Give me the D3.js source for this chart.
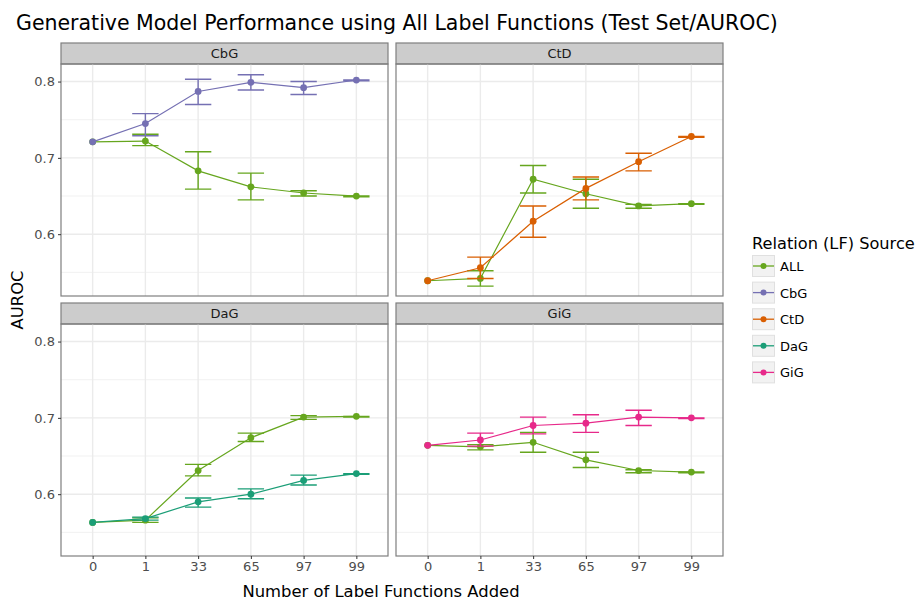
<!DOCTYPE html>
<html>
<head>
<meta charset="utf-8">
<script src="https://cdn.jsdelivr.net/npm/d3@7"></script>
<style>
  body { margin: 0; background: #fff; }
  text { font-family: "DejaVu Sans", sans-serif; }
</style>
</head>
<body>
<svg id="chart" width="919" height="600"></svg>
<script>
// categories
var xLabels = ["0", "1", "33", "65", "97", "99"];
var panelNames = ["CbG", "CtD", "DaG", "GiG"];
var sources = ["ALL", "CbG", "CtD", "DaG", "GiG"];
var sourceColors = ["#66a61e", "#7570b3", "#d95f02", "#1b9e77", "#e7298a"];

// ALL label functions, per panel (mean, lower, upper)
var cbgAll   = [0.721, 0.722, 0.683, 0.662, 0.654, 0.650];
var cbgAllLo = [null,  0.716, 0.659, 0.645, 0.650, 0.649];
var cbgAllHi = [null,  0.731, 0.708, 0.680, 0.657, 0.650];
var ctdAll   = [0.539, 0.542, 0.672, 0.653, 0.637, 0.640];
var ctdAllLo = [null,  0.532, 0.654, 0.634, 0.634, 0.639];
var ctdAllHi = [null,  0.552, 0.690, 0.672, 0.639, 0.640];
var dagAll   = [0.563, 0.566, 0.631, 0.674, 0.701, 0.702];
var dagAllLo = [null,  0.563, 0.624, 0.669, 0.698, 0.701];
var dagAllHi = [null,  0.569, 0.639, 0.680, 0.703, 0.702];
var gigAll   = [0.664, 0.662, 0.668, 0.645, 0.631, 0.629];
var gigAllLo = [null,  0.658, 0.655, 0.635, 0.628, 0.628];
var gigAllHi = [null,  0.665, 0.681, 0.655, 0.632, 0.629];

// same-relation label functions
var cbgOwn   = [0.721, 0.745, 0.787, 0.799, 0.792, 0.802];
var cbgOwnLo = [null,  0.729, 0.770, 0.789, 0.783, 0.801];
var cbgOwnHi = [null,  0.758, 0.803, 0.809, 0.800, 0.802];
var ctdOwn   = [0.539, 0.556, 0.617, 0.660, 0.695, 0.728];
var ctdOwnLo = [null,  0.542, 0.596, 0.645, 0.683, 0.727];
var ctdOwnHi = [null,  0.570, 0.637, 0.675, 0.706, 0.728];
var dagOwn   = [0.563, 0.568, 0.590, 0.600, 0.618, 0.627];
var dagOwnLo = [null,  0.566, 0.583, 0.594, 0.612, 0.626];
var dagOwnHi = [null,  0.570, 0.595, 0.607, 0.625, 0.627];
var gigOwn   = [0.664, 0.671, 0.690, 0.693, 0.701, 0.700];
var gigOwnLo = [null,  0.663, 0.679, 0.681, 0.690, 0.699];
var gigOwnHi = [null,  0.680, 0.701, 0.704, 0.710, 0.700];

var yTicks = [0.6, 0.7, 0.8];
var yMinor = [0.55, 0.65, 0.75];

var panelSeries = [
    [[cbgAll, cbgAllLo, cbgAllHi, "ALL"], [cbgOwn, cbgOwnLo, cbgOwnHi, "CbG"]],
    [[ctdAll, ctdAllLo, ctdAllHi, "ALL"], [ctdOwn, ctdOwnLo, ctdOwnHi, "CtD"]],
    [[dagAll, dagAllLo, dagAllHi, "ALL"], [dagOwn, dagOwnLo, dagOwnHi, "DaG"]],
    [[gigAll, gigAllLo, gigAllHi, "ALL"], [gigOwn, gigOwnLo, gigOwnHi, "GiG"]]
];

var color = d3.scaleOrdinal().domain(sources).range(sourceColors);

var svg = d3.select("#chart");

var panelW = 327, panelH = 232, stripH = 21;
var colX = [61, 396], rowY = [43, 303];

var x = d3.scalePoint().domain(xLabels).range([0, panelW]).padding(0.6);
var step = x.step();
var y = d3.scaleLinear().domain([0.519, 0.823]).range([panelH, 0]);

// title
svg.append("text")
    .attr("x", 16).attr("y", 30)
    .style("font-size", "20.5px").style("fill", "#000")
    .text("Generative Model Performance using All Label Functions (Test Set/AUROC)");

panelNames.forEach(function (name, i) {
    var col = i % 2, row = Math.floor(i / 2);
    var g = svg.append("g")
        .attr("transform", "translate(" + colX[col] + "," + (rowY[row] + stripH) + ")");

    // strip
    g.append("rect")
        .attr("x", 0).attr("y", -stripH).attr("width", panelW).attr("height", stripH)
        .style("fill", "#cccccc").style("stroke", "#7f7f7f").style("stroke-width", 1.2);
    g.append("text")
        .attr("x", panelW / 2).attr("y", -stripH / 2 + 4.8)
        .attr("text-anchor", "middle")
        .style("font-size", "13px").style("fill", "#1a1a1a")
        .text(name);

    // grid
    g.selectAll(".minor").data(yMinor).enter().append("line")
        .attr("x1", 0).attr("x2", panelW)
        .attr("y1", function (d) { return y(d); }).attr("y2", function (d) { return y(d); })
        .style("stroke", "#ebebeb").style("stroke-width", 0.7);
    g.selectAll(".major").data(yTicks).enter().append("line")
        .attr("x1", 0).attr("x2", panelW)
        .attr("y1", function (d) { return y(d); }).attr("y2", function (d) { return y(d); })
        .style("stroke", "#ebebeb").style("stroke-width", 1.4);
    g.selectAll(".vgrid").data(xLabels).enter().append("line")
        .attr("x1", function (d) { return x(d); }).attr("x2", function (d) { return x(d); })
        .attr("y1", 0).attr("y2", panelH)
        .style("stroke", "#ebebeb").style("stroke-width", 1.4);

    // series
    panelSeries[i].forEach(function (s) {
        var c = color(s[3]);
        var pts = xLabels.map(function (lab, k) {
            return {lab: lab, v: s[0][k], lo: s[1][k], hi: s[2][k]};
        });
        var eb = pts.filter(function (d) { return d.lo !== null; });
        g.selectAll(null).data(eb).enter().append("path")
            .attr("d", function (d) {
                var cx = x(d.lab), w = step * 0.25;
                return "M" + (cx - w) + "," + y(d.hi) + "H" + (cx + w) +
                    "M" + cx + "," + y(d.hi) + "V" + y(d.lo) +
                    "M" + (cx - w) + "," + y(d.lo) + "H" + (cx + w);
            })
            .style("fill", "none").style("stroke", c).style("stroke-width", 1.4);
        g.append("path").datum(pts)
            .attr("d", d3.line()
                .x(function (d) { return x(d.lab); })
                .y(function (d) { return y(d.v); }))
            .style("fill", "none").style("stroke", c).style("stroke-width", 1.2);
        g.selectAll(null).data(pts).enter().append("circle")
            .attr("cx", function (d) { return x(d.lab); })
            .attr("cy", function (d) { return y(d.v); })
            .attr("r", 3.4)
            .style("fill", c);
    });

    // border
    g.append("rect")
        .attr("x", 0).attr("y", 0).attr("width", panelW).attr("height", panelH)
        .style("fill", "none").style("stroke", "#7f7f7f").style("stroke-width", 1.2);

    // axes
    if (col === 0) {
        var ya = g.append("g").call(d3.axisLeft(y).tickValues(yTicks).tickFormat(d3.format(".1f")).tickSize(3));
        ya.select(".domain").remove();
        ya.selectAll("line").style("stroke", "#333").style("stroke-width", 1);
        ya.selectAll("text").style("font-size", "13px").style("fill", "#4d4d4d")
            .style("font-family", "DejaVu Sans");
    }
    if (row === 1) {
        var xa = g.append("g").attr("transform", "translate(0," + panelH + ")")
            .call(d3.axisBottom(x).tickSize(3));
        xa.select(".domain").remove();
        xa.selectAll("line").style("stroke", "#333").style("stroke-width", 1);
        xa.selectAll("text").style("font-size", "13px").style("fill", "#4d4d4d")
            .style("font-family", "DejaVu Sans");
    }
});

// axis titles
svg.append("text")
    .attr("x", 381).attr("y", 597)
    .attr("text-anchor", "middle")
    .style("font-size", "16.4px").style("fill", "#000")
    .text("Number of Label Functions Added");
svg.append("text")
    .attr("transform", "translate(23,300) rotate(-90)")
    .attr("text-anchor", "middle")
    .style("font-size", "16.4px").style("fill", "#000")
    .text("AUROC");

// legend
var lg = svg.append("g").attr("transform", "translate(752,249)");
lg.append("text").attr("x", 0).attr("y", 0)
    .style("font-size", "16.2px").style("fill", "#000")
    .text("Relation (LF) Source");
var items = lg.selectAll(".item").data(sources).enter().append("g")
    .attr("transform", function (d, i) { return "translate(0," + (6 + i * 26.6) + ")"; });
items.append("rect")
    .attr("x", 0.5).attr("y", 0.5).attr("width", 22).attr("height", 21)
    .style("fill", "#f2f2f2").style("stroke", "#e0e0e0");
items.append("line")
    .attr("x1", 1).attr("x2", 22).attr("y1", 11).attr("y2", 11)
    .style("stroke", function (d) { return color(d); }).style("stroke-width", 1.3);
items.append("circle")
    .attr("cx", 11.5).attr("cy", 11).attr("r", 3)
    .style("fill", function (d) { return color(d); });
items.append("text")
    .attr("x", 28).attr("y", 16)
    .style("font-size", "13px").style("fill", "#000")
    .text(function (d) { return d; });
</script>
</body>
</html>
